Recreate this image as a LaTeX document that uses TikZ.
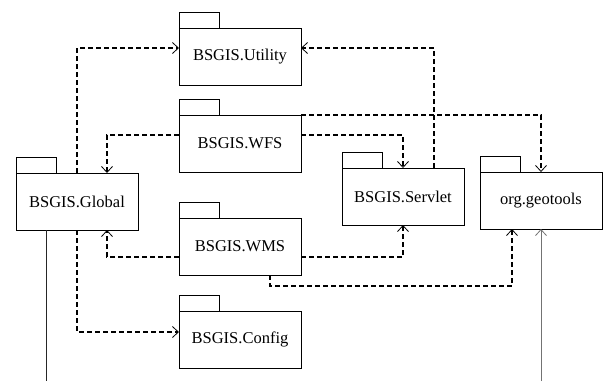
\documentclass[tikz,border=0pt]{standalone}
\usepackage{fontspec}
\setmainfont{Liberation Serif}
\usetikzlibrary{arrows.meta}
\begin{document}
\begin{tikzpicture}[x=1pt,y=-1pt,
  pkg/.style={draw,line width=0.8pt,minimum width=122pt,minimum height=57pt,
    inner sep=0pt,outer sep=0pt,font=\fontsize{16.5}{19}\selectfont},
  dep/.style={line width=1.1pt,dash pattern=on 5pt off 3pt,
    -{Straight Barb[length=6pt,width=11pt,line width=0.8pt]}},
  solidline/.style={line width=1pt}]
\useasboundingbox (0,0) rectangle (603,381);

% packages: box plus tab on its top left corner
\newcommand{\pkgbox}[4]{%
  \node[pkg] (#1) at (#2,#3) {#4};
  \draw[line width=0.8pt] (#1.north west) rectangle ++(40pt,16pt);}
\pkgbox{Utility}{240}{56.5}{BSGIS.Utility}
\pkgbox{WFS}{240}{143.5}{BSGIS.WFS}
\pkgbox{Global}{77}{201.5}{BSGIS.Global}
\pkgbox{WMS}{240}{246.5}{BSGIS.WMS}
\pkgbox{Config}{240}{339.5}{BSGIS.Config}
\pkgbox{Servlet}{403}{196.5}{BSGIS.Servlet}
\pkgbox{geotools}{541}{200.5}{org.geotools}

% dependencies
\draw[dep] (Global.north) |- ([yshift=8.5pt]Utility.west);
\draw[dep] ([xshift=31pt,yshift=0.4pt]Servlet.north) |- ([yshift=8.5pt]Utility.east);
\draw[dep] ([yshift=8.5pt]WFS.west) -| ([xshift=30pt]Global.north);
\draw[dep] ([yshift=8.5pt]WFS.east) -| (Servlet.north);
\draw[dep] (WFS.north east) -| (geotools.north);
\draw[dep] ([yshift=-10.5pt]WMS.west) -| ([xshift=30pt]Global.south);
\draw[dep] ([yshift=-10.5pt]WMS.east) -| (Servlet.south);
\draw[dep] ([xshift=30pt]WMS.south) -- ++(0,-11pt) -| ([xshift=-29pt]geotools.south);
\draw[dep] (Global.south) |- ([yshift=7.5pt]Config.west);

% outgoing and incoming links
\coordinate (gout) at (46,381);
\coordinate (tin) at (541,381);
\draw[solidline,black!85] ([xshift=-31pt]Global.south) -- (gout);
\draw[solidline,black!55,-{Straight Barb[length=6pt,width=11pt,line width=0.8pt]}] (tin) -- (geotools.south);
\end{tikzpicture}
\end{document}
